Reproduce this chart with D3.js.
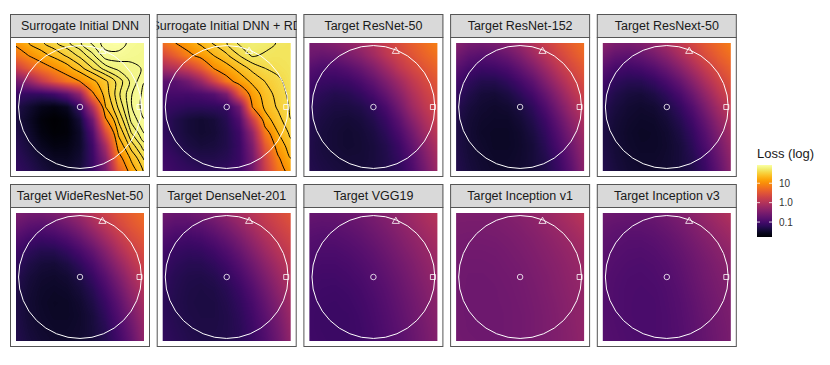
<!DOCTYPE html>
<html>
<head>
<meta charset="utf-8">
<script src="https://cdn.jsdelivr.net/npm/d3@7"></script>
<style>
  body { margin: 0; background: #fff; }
  svg { display: block; font-family: "Liberation Sans", Arial, Helvetica, sans-serif; }
</style>
</head>
<body>
<script>
// facet titles, in panel order (row by row)
const panelTitles = [
  "Surrogate Initial DNN", "Surrogate Initial DNN + RD", "Target ResNet-50", "Target ResNet-152", "Target ResNext-50",
  "Target WideResNet-50", "Target DenseNet-201", "Target VGG19", "Target Inception v1", "Target Inception v3"
];

// log10(loss) on an 11 x 11 grid, rows from top (y = 1) to bottom (y = -1), columns x = -1 .. 1
const lossSurrogate = [
  [1.08, 1.3, 1.45, 1.58, 1.68, 1.77, 1.86, 1.93, 1.94, 1.88, 1.86],
  [0.78, 1.0, 1.2, 1.36, 1.5, 1.63, 1.76, 1.88, 1.88, 1.86, 1.85],
  [0.2, 0.55, 0.8, 1.0, 1.2, 1.42, 1.6, 1.74, 1.8, 1.83, 1.85],
  [-0.6, -0.3, 0.15, 0.5, 0.8, 1.0, 1.25, 1.45, 1.65, 1.8, 1.9],
  [-1.1, -1.15, -1.15, -1.05, -0.8, -0.3, 0.95, 1.4, 1.68, 1.84, 1.92],
  [-1.3, -1.45, -1.6, -1.65, -1.55, -1.1, 0.0, 1.3, 1.62, 1.84, 1.93],
  [-1.35, -1.52, -1.7, -1.77, -1.7, -1.4, -0.6, 0.95, 1.5, 1.8, 1.9],
  [-1.3, -1.47, -1.66, -1.74, -1.71, -1.5, -0.9, 0.4, 1.35, 1.7, 1.85],
  [-1.25, -1.4, -1.57, -1.66, -1.64, -1.5, -1.05, -0.1, 1.15, 1.55, 1.75],
  [-1.2, -1.32, -1.45, -1.55, -1.56, -1.45, -1.1, -0.4, 0.85, 1.35, 1.62],
  [-1.15, -1.25, -1.37, -1.46, -1.48, -1.4, -1.1, -0.55, 0.55, 1.15, 1.5]
];
const lossSurrogateRD = [
  [0.75, 1.0, 1.18, 1.35, 1.5, 1.6, 1.72, 1.76, 1.74, 1.69, 1.68],
  [0.35, 0.6, 0.9, 1.1, 1.3, 1.45, 1.6, 1.71, 1.68, 1.67, 1.68],
  [-0.15, 0.0, 0.2, 0.55, 1.0, 1.2, 1.38, 1.52, 1.6, 1.64, 1.67],
  [-0.8, -0.8, -0.6, -0.25, 0.3, 0.85, 1.15, 1.35, 1.48, 1.57, 1.66],
  [-1.0, -1.0, -1.0, -0.95, -0.85, -0.5, 0.55, 1.15, 1.4, 1.53, 1.64],
  [-1.1, -1.15, -1.2, -1.2, -1.18, -1.15, -0.6, 1.0, 1.35, 1.5, 1.62],
  [-1.15, -1.3, -1.4, -1.45, -1.4, -1.25, -0.9, 0.2, 1.2, 1.42, 1.6],
  [-1.15, -1.3, -1.4, -1.45, -1.42, -1.3, -1.05, -0.3, 0.85, 1.3, 1.52],
  [-1.1, -1.25, -1.35, -1.4, -1.38, -1.3, -1.1, -0.5, 0.55, 1.15, 1.42],
  [-1.05, -1.15, -1.25, -1.3, -1.3, -1.25, -1.1, -0.6, 0.3, 0.95, 1.3],
  [-1.0, -1.1, -1.15, -1.2, -1.2, -1.15, -1.05, -0.6, 0.2, 0.8, 1.15]
];
const lossResNet50 = [
  [-0.55, -0.5, -0.42, -0.32, -0.18, 0.0, 0.22, 0.42, 0.6, 0.75, 0.9],
  [-0.65, -0.72, -0.68, -0.55, -0.4, -0.18, 0.08, 0.3, 0.48, 0.64, 0.78],
  [-0.85, -0.95, -0.95, -0.85, -0.7, -0.48, -0.2, 0.1, 0.32, 0.5, 0.65],
  [-1.0, -1.1, -1.12, -1.08, -0.95, -0.75, -0.48, -0.18, 0.12, 0.35, 0.52],
  [-1.12, -1.22, -1.28, -1.25, -1.15, -0.98, -0.72, -0.4, -0.05, 0.22, 0.42],
  [-1.2, -1.3, -1.35, -1.35, -1.3, -1.18, -0.95, -0.6, -0.2, 0.1, 0.32],
  [-1.25, -1.35, -1.4, -1.42, -1.38, -1.28, -1.1, -0.8, -0.4, -0.05, 0.22],
  [-1.28, -1.38, -1.42, -1.45, -1.42, -1.35, -1.2, -0.95, -0.6, -0.2, 0.1],
  [-1.3, -1.38, -1.42, -1.45, -1.43, -1.38, -1.28, -1.08, -0.75, -0.38, -0.02],
  [-1.3, -1.36, -1.4, -1.42, -1.42, -1.38, -1.3, -1.15, -0.88, -0.5, -0.12],
  [-1.28, -1.33, -1.37, -1.4, -1.4, -1.37, -1.3, -1.18, -0.95, -0.6, -0.2]
];
const lossResNet152 = [
  [-0.4, -0.55, -0.58, -0.52, -0.4, -0.22, 0.0, 0.25, 0.45, 0.62, 0.78],
  [-0.6, -0.78, -0.85, -0.8, -0.68, -0.48, -0.22, 0.05, 0.3, 0.5, 0.68],
  [-0.82, -1.0, -1.08, -1.05, -0.95, -0.75, -0.5, -0.2, 0.1, 0.35, 0.55],
  [-1.0, -1.18, -1.28, -1.28, -1.18, -1.0, -0.78, -0.45, -0.12, 0.18, 0.42],
  [-1.15, -1.3, -1.4, -1.42, -1.35, -1.2, -1.0, -0.7, -0.35, 0.0, 0.28],
  [-1.25, -1.38, -1.45, -1.48, -1.45, -1.35, -1.18, -0.9, -0.55, -0.18, 0.12],
  [-1.3, -1.42, -1.48, -1.5, -1.5, -1.42, -1.28, -1.05, -0.72, -0.35, -0.02],
  [-1.32, -1.43, -1.5, -1.52, -1.52, -1.47, -1.35, -1.15, -0.85, -0.5, -0.15],
  [-1.32, -1.42, -1.48, -1.52, -1.52, -1.48, -1.4, -1.22, -0.95, -0.62, -0.25],
  [-1.3, -1.4, -1.46, -1.5, -1.5, -1.47, -1.4, -1.28, -1.05, -0.72, -0.32],
  [-1.28, -1.38, -1.44, -1.48, -1.48, -1.46, -1.4, -1.3, -1.1, -0.8, -0.38]
];
const lossResNext50 = [
  [-0.35, -0.5, -0.52, -0.45, -0.3, -0.1, 0.12, 0.35, 0.55, 0.72, 0.88],
  [-0.58, -0.75, -0.8, -0.72, -0.58, -0.38, -0.12, 0.15, 0.4, 0.6, 0.76],
  [-0.82, -1.0, -1.05, -1.0, -0.88, -0.68, -0.42, -0.12, 0.18, 0.42, 0.62],
  [-1.0, -1.18, -1.25, -1.24, -1.14, -0.96, -0.72, -0.4, -0.06, 0.24, 0.48],
  [-1.15, -1.3, -1.38, -1.4, -1.33, -1.18, -0.97, -0.66, -0.3, 0.05, 0.33],
  [-1.24, -1.37, -1.44, -1.47, -1.44, -1.33, -1.15, -0.88, -0.52, -0.15, 0.16],
  [-1.3, -1.41, -1.47, -1.5, -1.49, -1.41, -1.26, -1.03, -0.7, -0.33, 0.0],
  [-1.32, -1.43, -1.49, -1.52, -1.51, -1.46, -1.34, -1.14, -0.84, -0.48, -0.14],
  [-1.32, -1.42, -1.48, -1.51, -1.51, -1.47, -1.39, -1.21, -0.94, -0.6, -0.24],
  [-1.3, -1.4, -1.46, -1.49, -1.49, -1.46, -1.39, -1.27, -1.04, -0.7, -0.32],
  [-1.28, -1.38, -1.44, -1.47, -1.47, -1.45, -1.39, -1.29, -1.1, -0.78, -0.38]
];
const lossWideResNet50 = [
  [-0.5, -0.58, -0.58, -0.5, -0.36, -0.18, 0.05, 0.28, 0.46, 0.6, 0.74],
  [-0.68, -0.8, -0.85, -0.78, -0.64, -0.44, -0.18, 0.08, 0.32, 0.5, 0.64],
  [-0.88, -1.02, -1.08, -1.04, -0.92, -0.72, -0.46, -0.16, 0.12, 0.36, 0.52],
  [-1.05, -1.2, -1.28, -1.27, -1.16, -0.98, -0.74, -0.42, -0.08, 0.2, 0.4],
  [-1.18, -1.32, -1.4, -1.42, -1.34, -1.18, -0.96, -0.64, -0.3, 0.02, 0.28],
  [-1.26, -1.39, -1.46, -1.48, -1.44, -1.32, -1.12, -0.84, -0.5, -0.15, 0.14],
  [-1.3, -1.42, -1.49, -1.51, -1.49, -1.4, -1.24, -0.98, -0.66, -0.3, 0.02],
  [-1.32, -1.44, -1.5, -1.53, -1.52, -1.46, -1.32, -1.1, -0.8, -0.44, -0.1],
  [-1.32, -1.43, -1.49, -1.52, -1.52, -1.48, -1.38, -1.18, -0.9, -0.56, -0.2],
  [-1.3, -1.41, -1.47, -1.5, -1.5, -1.47, -1.39, -1.24, -0.98, -0.66, -0.28],
  [-1.28, -1.38, -1.44, -1.48, -1.48, -1.46, -1.39, -1.26, -1.04, -0.74, -0.34]
];
const lossDenseNet201 = [
  [-0.62, -0.68, -0.66, -0.58, -0.46, -0.3, -0.12, 0.06, 0.22, 0.36, 0.5],
  [-0.75, -0.84, -0.85, -0.8, -0.68, -0.52, -0.32, -0.1, 0.1, 0.26, 0.4],
  [-0.9, -1.0, -1.03, -0.99, -0.88, -0.72, -0.52, -0.28, -0.05, 0.14, 0.3],
  [-1.02, -1.12, -1.16, -1.14, -1.05, -0.9, -0.7, -0.45, -0.2, 0.02, 0.2],
  [-1.1, -1.2, -1.25, -1.25, -1.18, -1.05, -0.86, -0.62, -0.36, -0.12, 0.1],
  [-1.15, -1.25, -1.3, -1.31, -1.27, -1.16, -0.99, -0.76, -0.5, -0.24, 0.0],
  [-1.18, -1.27, -1.32, -1.34, -1.32, -1.24, -1.09, -0.88, -0.62, -0.35, -0.08],
  [-1.2, -1.28, -1.33, -1.35, -1.34, -1.28, -1.16, -0.97, -0.72, -0.45, -0.16],
  [-1.2, -1.27, -1.32, -1.34, -1.34, -1.3, -1.2, -1.03, -0.8, -0.53, -0.22],
  [-1.18, -1.25, -1.3, -1.33, -1.33, -1.3, -1.22, -1.07, -0.86, -0.6, -0.27],
  [-1.16, -1.23, -1.28, -1.31, -1.31, -1.29, -1.22, -1.09, -0.9, -0.65, -0.32]
];
const lossVGG19 = [
  [-0.7, -0.72, -0.7, -0.66, -0.6, -0.52, -0.42, -0.3, -0.18, -0.06, 0.05],
  [-0.78, -0.8, -0.79, -0.75, -0.69, -0.6, -0.5, -0.38, -0.26, -0.14, -0.03],
  [-0.85, -0.88, -0.87, -0.83, -0.77, -0.68, -0.58, -0.46, -0.34, -0.22, -0.1],
  [-0.91, -0.94, -0.94, -0.9, -0.84, -0.76, -0.65, -0.53, -0.41, -0.29, -0.17],
  [-0.96, -0.99, -0.99, -0.96, -0.9, -0.82, -0.72, -0.6, -0.48, -0.35, -0.23],
  [-1.0, -1.03, -1.03, -1.0, -0.95, -0.87, -0.77, -0.66, -0.53, -0.4, -0.28],
  [-1.02, -1.05, -1.06, -1.04, -0.99, -0.91, -0.82, -0.7, -0.58, -0.45, -0.32],
  [-1.04, -1.07, -1.08, -1.06, -1.02, -0.95, -0.85, -0.74, -0.62, -0.49, -0.36],
  [-1.05, -1.08, -1.09, -1.08, -1.04, -0.97, -0.88, -0.77, -0.65, -0.52, -0.39],
  [-1.05, -1.08, -1.09, -1.08, -1.05, -0.99, -0.9, -0.8, -0.68, -0.55, -0.42],
  [-1.04, -1.07, -1.09, -1.08, -1.05, -1.0, -0.92, -0.82, -0.7, -0.57, -0.44]
];
const lossInceptionV1 = [
  [-0.5, -0.5, -0.5, -0.48, -0.45, -0.4, -0.33, -0.24, -0.14, -0.03, 0.1],
  [-0.53, -0.54, -0.54, -0.52, -0.49, -0.45, -0.39, -0.31, -0.22, -0.12, -0.01],
  [-0.56, -0.57, -0.57, -0.56, -0.53, -0.49, -0.44, -0.37, -0.29, -0.2, -0.1],
  [-0.58, -0.6, -0.6, -0.59, -0.56, -0.52, -0.47, -0.41, -0.34, -0.26, -0.17],
  [-0.6, -0.62, -0.62, -0.61, -0.58, -0.55, -0.5, -0.44, -0.38, -0.3, -0.22],
  [-0.61, -0.63, -0.63, -0.62, -0.6, -0.57, -0.52, -0.47, -0.4, -0.33, -0.26],
  [-0.62, -0.63, -0.64, -0.63, -0.61, -0.58, -0.54, -0.48, -0.42, -0.35, -0.28],
  [-0.62, -0.63, -0.64, -0.63, -0.62, -0.59, -0.55, -0.5, -0.44, -0.37, -0.3],
  [-0.62, -0.63, -0.64, -0.64, -0.62, -0.6, -0.56, -0.51, -0.45, -0.38, -0.31],
  [-0.61, -0.63, -0.64, -0.64, -0.62, -0.6, -0.56, -0.51, -0.46, -0.39, -0.32],
  [-0.6, -0.62, -0.63, -0.63, -0.62, -0.6, -0.56, -0.52, -0.46, -0.4, -0.33]
];
const lossInceptionV3 = [
  [-0.62, -0.66, -0.68, -0.68, -0.65, -0.58, -0.48, -0.36, -0.24, -0.12, 0.0],
  [-0.7, -0.75, -0.77, -0.77, -0.74, -0.67, -0.58, -0.47, -0.35, -0.23, -0.12],
  [-0.76, -0.81, -0.84, -0.84, -0.81, -0.75, -0.66, -0.55, -0.44, -0.33, -0.22],
  [-0.8, -0.85, -0.88, -0.89, -0.86, -0.8, -0.72, -0.62, -0.51, -0.41, -0.31],
  [-0.83, -0.88, -0.91, -0.92, -0.9, -0.85, -0.77, -0.67, -0.57, -0.47, -0.38],
  [-0.85, -0.9, -0.93, -0.94, -0.92, -0.88, -0.8, -0.7, -0.6, -0.51, -0.43],
  [-0.86, -0.91, -0.94, -0.95, -0.94, -0.9, -0.83, -0.73, -0.63, -0.54, -0.46],
  [-0.87, -0.91, -0.94, -0.96, -0.95, -0.91, -0.85, -0.76, -0.66, -0.57, -0.49],
  [-0.87, -0.91, -0.94, -0.96, -0.95, -0.92, -0.86, -0.78, -0.68, -0.59, -0.51],
  [-0.86, -0.9, -0.93, -0.95, -0.95, -0.92, -0.87, -0.79, -0.7, -0.61, -0.53],
  [-0.85, -0.89, -0.92, -0.94, -0.94, -0.92, -0.87, -0.8, -0.71, -0.62, -0.54]
];

const lossGrids = [
  lossSurrogate, lossSurrogateRD, lossResNet50, lossResNet152, lossResNext50,
  lossWideResNet50, lossDenseNet201, lossVGG19, lossInceptionV1, lossInceptionV3
];

// contour levels (raw loss)
const contourBreaks = [10, 20, 30, 40, 50, 60, 70, 80];

// the circle and the three marked points, in plane coordinates
const ringRadius = 0.96;
const markerX = [0, 0.35, 0.93];
const markerY = [0, 0.87, 0];
const markerShape = ["circle", "triangle", "square"];

// legend
const legendTicks = [0.1, 1, 10];
const legendLabels = ["0.1", "1.0", "10"];

const W = 830, H = 365;
const svg = d3.select("body").append("svg")
  .attr("width", W)
  .attr("height", H);

const panelSize = 140, stripH = 23, inset = 6;
const heat = panelSize - 2 * inset;
const colLeft = d3.range(5).map(c => 10 + c * 146.7);
const rowTop = [37, 207];
const n = lossSurrogate.length;
const edge = "#555";

const allVals = lossGrids.flat();
const color = d3.scaleSequential(d3.interpolateInferno).domain(d3.extent(allVals.flat()));

// colour lookup so the raster does not parse a colour per pixel
const lutN = 512;
const lut = d3.range(lutN).map(i => d3.rgb(d3.interpolateInferno(i / (lutN - 1))));
const [dMin, dMax] = color.domain();

function rasterURL(grid) {
  const cv = document.createElement("canvas");
  cv.width = heat; cv.height = heat;
  const ctx = cv.getContext("2d");
  const img = ctx.createImageData(heat, heat);
  for (let py = 0; py < heat; py++) {
    const v = (py + 0.5) / heat * (n - 1);
    const j = Math.min(n - 2, Math.floor(v)), fy = v - j;
    for (let px = 0; px < heat; px++) {
      const u = (px + 0.5) / heat * (n - 1);
      const i = Math.min(n - 2, Math.floor(u)), fx = u - i;
      const val = (grid[j][i] * (1 - fx) + grid[j][i + 1] * fx) * (1 - fy)
                + (grid[j + 1][i] * (1 - fx) + grid[j + 1][i + 1] * fx) * fy;
      const t = Math.max(0, Math.min(1, (val - dMin) / (dMax - dMin)));
      const c = lut[Math.round(t * (lutN - 1))];
      const k = (py * heat + px) * 4;
      img.data[k] = c.r; img.data[k + 1] = c.g; img.data[k + 2] = c.b; img.data[k + 3] = 255;
    }
  }
  ctx.putImageData(img, 0, 0);
  return cv.toDataURL();
}

const defs = svg.append("defs");
const contourGen = d3.contours().size([n, n]).thresholds(contourBreaks.map(Math.log10));
const ringLine = d3.line().curve(d3.curveCatmullRomClosed.alpha(0.5));

lossGrids.forEach((grid, k) => {
  const col = k % 5, row = Math.floor(k / 5);
  const left = colLeft[col], top = rowTop[row];
  const hx = left + inset, hy = top + inset;
  const x = d3.scaleLinear().domain([-1, 1]).range([hx, hx + heat]);
  const y = d3.scaleLinear().domain([-1, 1]).range([hy + heat, hy]);
  const cell = heat / (n - 1);

  const g = svg.append("g");

  // strip
  defs.append("clipPath").attr("id", "strip" + k)
    .append("rect").attr("x", left).attr("y", top - stripH).attr("width", panelSize).attr("height", stripH);
  g.append("rect")
    .attr("x", left).attr("y", top - stripH)
    .attr("width", panelSize).attr("height", stripH)
    .attr("fill", "#d9d9d9");
  g.append("text")
    .attr("clip-path", "url(#strip" + k + ")")
    .attr("x", left + panelSize / 2).attr("y", top - stripH / 2)
    .attr("dy", "0.36em")
    .attr("text-anchor", "middle")
    .attr("font-size", 12.5)
    .attr("fill", "#1a1a1a")
    .text(panelTitles[k]);
  g.append("rect")
    .attr("x", left + 0.5).attr("y", top - stripH + 0.5)
    .attr("width", panelSize - 1).attr("height", stripH)
    .attr("fill", "none").attr("stroke", edge).attr("stroke-width", 1);

  // heatmap
  g.append("image")
    .attr("x", hx).attr("y", hy)
    .attr("width", heat).attr("height", heat)
    .attr("preserveAspectRatio", "none")
    .attr("href", rasterURL(grid));

  // contours
  defs.append("clipPath").attr("id", "heat" + k)
    .append("rect").attr("x", hx).attr("y", hy).attr("width", heat).attr("height", heat);
  const cg = g.append("g").attr("clip-path", "url(#heat" + k + ")");
  contourGen(grid.flat()).forEach(mp => {
    mp.coordinates.forEach(poly => poly.forEach(ring => {
      const pts = ring.slice(0, -1).map(([u, v]) => [hx + (u - 0.5) * cell, hy + (v - 0.5) * cell]);
      cg.append("path")
        .attr("d", ringLine(pts))
        .attr("fill", "none")
        .attr("stroke", "#000")
        .attr("stroke-width", 1);
    }));
  });

  // circle and marked points
  g.append("circle")
    .attr("cx", x(0)).attr("cy", y(0))
    .attr("r", x(ringRadius) - x(0))
    .attr("fill", "none").attr("stroke", "#fff").attr("stroke-width", 1);
  markerX.forEach((mx, m) => {
    const shape = markerShape[m];
    const sym = shape === "circle" ? d3.symbolCircle : shape === "triangle" ? d3.symbolTriangle : d3.symbolSquare;
    const size = shape === "circle" ? 24 : shape === "triangle" ? 22 : 25;
    g.append("path")
      .attr("transform", `translate(${x(mx)},${y(markerY[m])})`)
      .attr("d", d3.symbol(sym, size)())
      .attr("fill", "none").attr("stroke", "#fff").attr("stroke-width", 0.8);
  });

  // panel border
  g.append("rect")
    .attr("x", left + 0.5).attr("y", top + 0.5)
    .attr("width", panelSize - 1).attr("height", panelSize - 1)
    .attr("fill", "none").attr("stroke", edge).attr("stroke-width", 1);
});

// legend
const barX = 757, barY = 165, barW = 15, barH = 72;
const ly = d3.scaleLinear().domain(color.domain()).range([barY + barH, barY]);
const grad = defs.append("linearGradient").attr("id", "lossGrad")
  .attr("x1", 0).attr("y1", 1).attr("x2", 0).attr("y2", 0);
d3.range(21).forEach(i => {
  grad.append("stop").attr("offset", i / 20).attr("stop-color", d3.interpolateInferno(i / 20));
});
svg.append("text")
  .attr("x", barX).attr("y", 158)
  .attr("font-size", 13)
  .attr("fill", "#1a1a1a")
  .text("Loss (log)");
svg.append("rect")
  .attr("x", barX).attr("y", barY)
  .attr("width", barW).attr("height", barH)
  .attr("fill", "url(#lossGrad)");
legendTicks.forEach((t, i) => {
  const ty = ly(Math.log10(t));
  svg.append("line").attr("x1", barX).attr("x2", barX + 3).attr("y1", ty).attr("y2", ty)
    .attr("stroke", "#fff").attr("stroke-width", 0.8);
  svg.append("line").attr("x1", barX + barW - 3).attr("x2", barX + barW).attr("y1", ty).attr("y2", ty)
    .attr("stroke", "#fff").attr("stroke-width", 0.8);
  svg.append("text")
    .attr("x", barX + barW + 7).attr("y", ty)
    .attr("dy", "0.35em")
    .attr("font-size", 10)
    .attr("fill", "#333")
    .text(legendLabels[i]);
});
</script>
</body>
</html>
